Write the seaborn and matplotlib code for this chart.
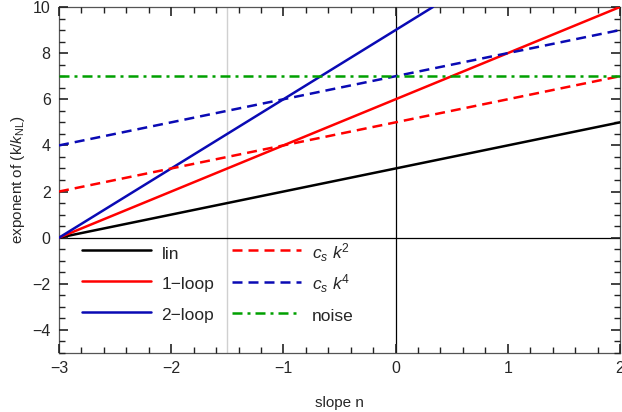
import matplotlib
matplotlib.use("Agg")
import matplotlib.pyplot as plt
import seaborn as sns
import pandas as pd
from matplotlib.ticker import MultipleLocator

sns.set_style("ticks", {"xtick.direction": "in", "ytick.direction": "in"})
plt.rcParams['font.family'] = ['Liberation Sans', 'DejaVu Sans']
plt.rcParams['mathtext.fontset'] = 'custom'
plt.rcParams['mathtext.it'] = 'Liberation Sans:italic'
plt.rcParams['mathtext.rm'] = 'Liberation Sans'
plt.rcParams['axes.axisbelow'] = False

# data
n_vals = [-3, -2, -1, 0, 1, 2]
lin = [0, 1, 2, 3, 4, 5]
loop1 = [0, 2, 4, 6, 8, 10]
n_loop2 = [-3, -2, -1, 0, 0.333]
loop2 = [0, 3, 6, 9, 10]
cs_k2 = [2, 3, 4, 5, 6, 7]
cs_k4 = [4, 5, 6, 7, 8, 9]
noise = [7, 7, 7, 7, 7, 7]

series = [
    ("lin", n_vals, lin, "black", None),
    ("1\u2212loop", n_vals, loop1, "#ff0000", None),
    ("2\u2212loop", n_loop2, loop2, "#0a0ab4", None),
    ("$c_s\\ k^2$", n_vals, cs_k2, "#ff0000", (4, 2.4)),
    ("$c_s\\ k^4$", n_vals, cs_k4, "#0a0ab4", (4, 2.4)),
    ("noise", n_vals, noise, "#00a000", (4, 2.0, 1.2, 2.0)),
]

fig = plt.figure(figsize=(6.22, 4.12), dpi=100)
ax = fig.add_axes([0.0949, 0.1432, 0.9018, 0.8398])

ax.axvline(-1.5, color="#d0d0d0", lw=1.0, zorder=1)
ax.axvline(0, color="black", lw=0.9, zorder=1)
ax.axhline(0, color="black", lw=0.9, zorder=1)

for label, xs, ys, col, dashes in series:
    df = pd.DataFrame({"n": xs, "y": ys})
    sns.lineplot(data=df, x="n", y="y", ax=ax, color=col, lw=1.8,
                 label=label, zorder=3)
    l = ax.get_lines()[-1]
    if dashes is not None:
        l.set_dashes(dashes)

ax.set_xlim(-3, 2)
ax.set_ylim(-5, 10)
ax.xaxis.set_major_locator(MultipleLocator(1))
ax.xaxis.set_minor_locator(MultipleLocator(0.2))
ax.yaxis.set_major_locator(MultipleLocator(2))
ax.yaxis.set_minor_locator(MultipleLocator(0.5))
for s in ax.spines.values():
    s.set_visible(True)
    s.set_color("#555555")
    s.set_linewidth(0.9)

ax.set_xlabel("slope n", fontsize=11, labelpad=14)
ax.set_ylabel("exponent of (k/$k_{\\mathrm{NL}}$)", fontsize=11, labelpad=4)

ax.legend(ncol=2, loc="upper left", bbox_to_anchor=(0.028, 0.343), frameon=False,
          fontsize=12.5, handlelength=4.0, handleheight=1.55, labelspacing=0.52,
          columnspacing=1.0, handletextpad=0.6, borderaxespad=0)

ax.tick_params(which="major", direction="in", top=True, right=True, bottom=True,
               left=True, length=6.5, width=1.2, color="#222222", labelsize=11.5, pad=6)
ax.tick_params(which="minor", direction="in", top=True, right=True, bottom=True,
               left=True, length=4, width=1.0, color="#222222")

fig.savefig("out.png", dpi=100)
